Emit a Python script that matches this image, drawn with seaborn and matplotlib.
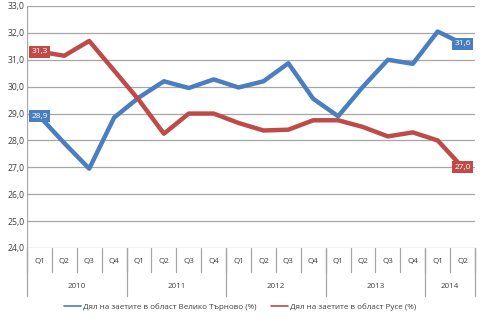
import matplotlib
matplotlib.use("Agg")
import matplotlib.pyplot as plt
from matplotlib.lines import Line2D
import seaborn as sns
import pandas as pd
import numpy as np

# Quarterly employment share by region, 2010 Q1 - 2014 Q2
years = ["2010", "2011", "2012", "2013", "2014"]
quarters_per_year = [4, 4, 4, 4, 2]
quarter_labels = ["Q1", "Q2", "Q3", "Q4"] * 4 + ["Q1", "Q2"]

veliko_tarnovo = [28.9, 27.9, 26.95, 28.85, 29.6, 30.2, 29.95, 30.27, 29.97,
                  30.2, 30.87, 29.55, 28.9, 30.0, 31.0, 30.85, 32.05, 31.6]
ruse = [31.3, 31.15, 31.7, 30.6, 29.5, 28.25, 29.0, 29.0, 28.65,
        28.37, 28.4, 28.75, 28.75, 28.5, 28.15, 28.3, 28.0, 27.0]

series_names = ["Дял на заетите в област Велико Търново (%)",
                "Дял на заетите в област Русе (%)"]
y_ticks = [24.0, 25.0, 26.0, 27.0, 28.0, 29.0, 30.0, 31.0, 32.0, 33.0]
y_tick_labels = ["24,0", "25,0", "26,0", "27,0", "28,0", "29,0", "30,0",
                 "31,0", "32,0", "33,0"]

colors = ["#4A7EBF", "#BE4B48"]
text_color = "#404040"
grid_color = "#A6A6A6"

n = len(quarter_labels)
df = pd.DataFrame({
    "pos": list(range(n)) * 2,
    "value": veliko_tarnovo + ruse,
    "series": [series_names[0]] * n + [series_names[1]] * n,
})

sns.set_style("white")
plt.rcParams["font.family"] = ["Open Sans", "DejaVu Sans"]

fig = plt.figure(figsize=(5, 3.29), dpi=100)
ax = fig.add_axes([27 / 500, 1 - 248 / 329, 448 / 500, 242 / 329])

sns.lineplot(data=df, x="pos", y="value", hue="series", palette=colors,
             linewidth=3.2, ax=ax, legend=False, solid_capstyle="round",
             solid_joinstyle="round")

ax.set_xlim(-0.5, n - 0.5)
ax.set_ylim(24, 33)
ax.set_yticks(y_ticks)
ax.set_yticklabels(y_tick_labels, fontsize=6.2, color=text_color)
ax.set_xticks([])
ax.set_xlabel("")
ax.set_ylabel("")
ax.tick_params(axis="y", length=0, pad=2)
for yv in y_ticks:
    ax.axhline(yv, color=grid_color, lw=0.9, zorder=0)
for s in ax.spines.values():
    s.set_visible(False)
ax.axvline(-0.5, color=grid_color, lw=0.9, zorder=0)

# Multi-level category axis below the plot
trans = ax.get_xaxis_transform()
q_depth = -24 / 242
y_depth = -48 / 242
for i, q in enumerate(quarter_labels):
    ax.text(i, -14 / 242, q, transform=trans, ha="center", va="center",
            fontsize=5.8, color=text_color)
for i in range(n + 1):
    ax.plot([i - 0.5, i - 0.5], [0, q_depth], transform=trans,
            color=grid_color, lw=0.9, clip_on=False)
start = 0
for yr, cnt in zip(years, quarters_per_year):
    ax.text(start + cnt / 2 - 0.5, -38 / 242, yr, transform=trans,
            ha="center", va="center", fontsize=5.8, color=text_color)
    ax.plot([start - 0.5, start - 0.5], [0, y_depth], transform=trans,
            color=grid_color, lw=0.9, clip_on=False)
    start += cnt
ax.plot([n - 0.5, n - 0.5], [0, y_depth], transform=trans,
        color=grid_color, lw=0.9, clip_on=False)

# Value labels on first and last points
for vals, col in zip([veliko_tarnovo, ruse], colors):
    for idx in (0, n - 1):
        ax.text(idx, vals[idx], f"{vals[idx]:.1f}".replace(".", ","),
                ha="center", va="center", fontsize=6.0, color="white",
                zorder=5,
                bbox=dict(boxstyle="square,pad=0.3", fc=col, ec="none"))

handles = [Line2D([0], [0], color=c, lw=1.2) for c in colors]
fig.legend(handles, series_names, loc="center",
           bbox_to_anchor=(0.48, 1 - 307 / 329), ncol=2, frameon=False,
           fontsize=5.8, handlelength=2.1, handletextpad=0.2,
           columnspacing=1.9, labelcolor=text_color)

fig.savefig("out.png", dpi=100)
